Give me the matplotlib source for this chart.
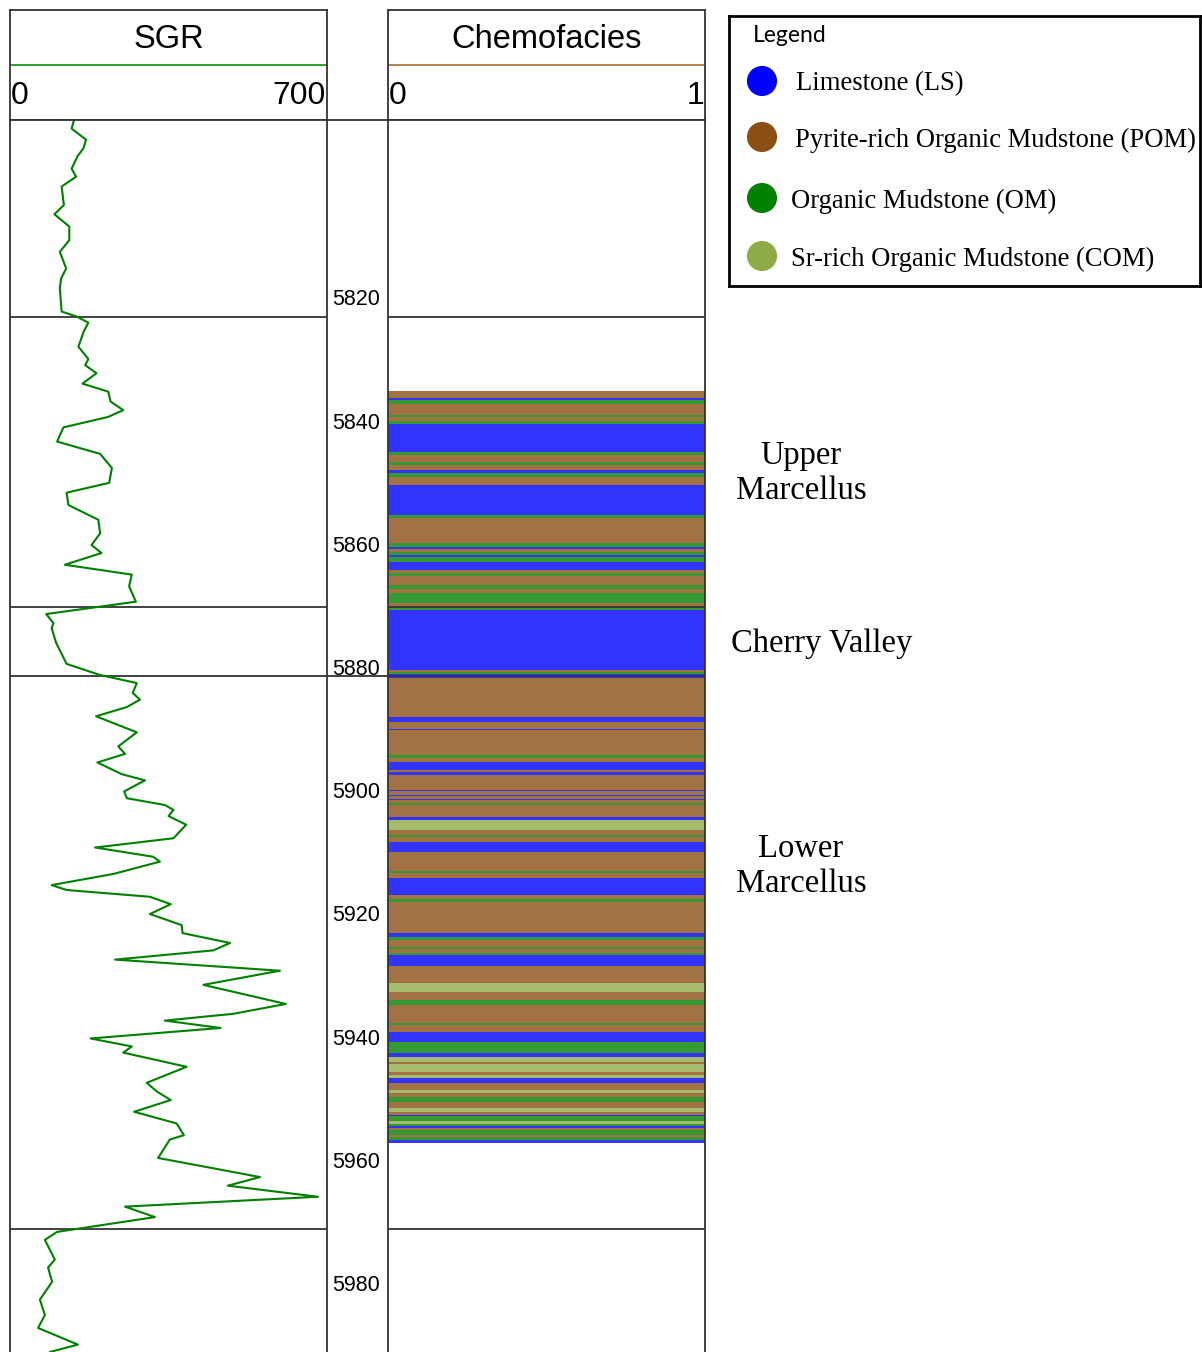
import matplotlib
matplotlib.use("Agg")
import matplotlib.pyplot as plt
from matplotlib.transforms import blended_transform_factory

# SGR log (API), depth in ft
sgr_depth = [5790.9, 5792.2, 5794.0, 5795.4, 5796.7, 5798.7, 5800.0, 5801.6, 5804.6, 5806.1,
             5808.1, 5810.3, 5812.2, 5814.9, 5816.5, 5818.1, 5821.9, 5822.7, 5823.7, 5825.1,
             5827.6, 5829.6, 5830.6, 5831.9, 5833.6, 5834.9, 5836.5, 5837.9, 5839.0, 5840.7,
             5843.0, 5845.0, 5847.3, 5849.7, 5851.3, 5853.3, 5855.7, 5857.9, 5859.8, 5861.1,
             5863.0, 5864.6, 5866.5, 5869.0, 5869.8, 5871.0, 5872.5, 5873.3, 5875.7, 5879.1,
             5880.9, 5882.2, 5883.8, 5884.9, 5886.1, 5887.6, 5890.2, 5892.5, 5893.7, 5895.1,
             5897.0, 5898.0, 5899.8, 5900.9, 5902.0, 5902.8, 5903.8, 5905.2, 5907.4, 5908.9,
             5910.4, 5911.2, 5913.2, 5915.0, 5915.8, 5916.9, 5918.1, 5919.7, 5921.5, 5922.8,
             5924.4, 5925.6, 5927.1, 5928.9, 5931.2, 5934.3, 5935.9, 5937.0, 5938.2, 5939.9,
             5941.2, 5942.2, 5944.5, 5947.1, 5948.5, 5949.9, 5951.8, 5953.7, 5955.6, 5956.3,
             5959.3, 5962.4, 5963.8, 5965.6, 5967.2, 5968.9, 5971.3, 5972.6, 5975.8, 5977.1,
             5979.4, 5982.3, 5984.8, 5986.9, 5989.6, 5990.8]
sgr_value = [141, 136, 168, 162, 149, 136, 146, 114, 119, 98,
             131, 131, 110, 124, 113, 110, 114, 147, 173, 163,
             151, 173, 166, 191, 160, 217, 222, 250, 217, 118,
             104, 199, 225, 219, 125, 129, 195, 199, 180, 202,
             121, 269, 263, 278, 199, 80, 96, 92, 102, 125,
             199, 280, 271, 287, 258, 190, 280, 239, 254, 193,
             247, 298, 252, 258, 342, 361, 350, 389, 361, 188,
             316, 331, 228, 92, 125, 309, 355, 309, 379, 381,
             486, 449, 232, 596, 427, 609, 493, 342, 465, 178,
             269, 250, 390, 302, 324, 355, 274, 368, 384, 353,
             327, 552, 481, 680, 254, 320, 104, 77, 99, 84,
             93, 66, 77, 62, 150, 88]

# chemofacies intervals: top depth of each interval and its facies
facies_top = [5834.8, 5835.9, 5836.2, 5836.9, 5838.7, 5839.0, 5839.6, 5840.1, 5844.7, 5845.2,
              5846.3, 5846.8, 5847.6, 5848.1, 5848.7, 5850.0, 5854.9, 5855.4, 5859.4, 5860.1,
              5860.4, 5860.9, 5861.4, 5861.7, 5862.5, 5863.8, 5864.3, 5864.8, 5866.3, 5866.9,
              5867.6, 5869.2, 5869.8, 5870.3, 5880.1, 5880.4, 5880.7, 5881.4, 5887.7, 5888.5,
              5889.6, 5889.8, 5893.9, 5894.4, 5895.0, 5896.3, 5896.6, 5897.1, 5899.5, 5899.7,
              5900.4, 5900.5, 5901.0, 5901.2, 5901.7, 5902.0, 5903.9, 5904.4, 5906.0, 5906.9,
              5907.2, 5908.0, 5909.6, 5912.7, 5913.0, 5913.8, 5916.6, 5917.2, 5917.7, 5922.8,
              5923.4, 5923.9, 5925.0, 5925.4, 5926.0, 5926.3, 5928.1, 5930.9, 5932.3, 5933.6,
              5934.5, 5937.4, 5937.7, 5938.8, 5940.5, 5942.2, 5942.9, 5943.7, 5944.0, 5945.3,
              5945.8, 5946.3, 5947.1, 5948.2, 5948.7, 5949.4, 5950.2, 5951.2, 5951.8, 5952.3,
              5952.5, 5953.3, 5953.8, 5954.1, 5954.4, 5954.7, 5955.6, 5955.9, 5956.4]
facies_code = ["POM", "LS", "OM", "POM", "OM", "POM", "OM", "LS", "OM", "POM",
               "OM", "POM", "LS", "OM", "POM", "LS", "OM", "POM", "OM", "LS",
               "POM", "OM", "LS", "OM", "LS", "POM", "OM", "POM", "OM", "POM",
               "OM", "POM", "OM", "LS", "POM", "OM", "LS", "POM", "LS", "POM",
               "LS", "POM", "OM", "POM", "LS", "POM", "LS", "POM", "LS", "POM",
               "LS", "POM", "LS", "POM", "OM", "POM", "LS", "COM", "POM", "OM",
               "POM", "LS", "POM", "OM", "POM", "LS", "POM", "OM", "POM", "LS",
               "OM", "POM", "OM", "POM", "OM", "LS", "POM", "COM", "POM", "OM",
               "POM", "OM", "POM", "LS", "OM", "LS", "COM", "POM", "COM", "POM",
               "COM", "LS", "POM", "COM", "POM", "OM", "POM", "COM", "POM", "LS",
               "OM", "COM", "OM", "LS", "POM", "OM", "POM", "OM", "LS"]
facies_base = 5956.9

facies_colors = {"LS": "#0000ff", "POM": "#8b4f14", "OM": "#008000", "COM": "#8fab47"}
legend_labels = ["Limestone (LS)", "Pyrite-rich Organic Mudstone (POM)",
                 "Organic Mudstone (OM)", "Sr-rich Organic Mudstone (COM)"]
legend_codes = ["LS", "POM", "OM", "COM"]

formation_tops = [5822.8, 5869.8, 5881.0, 5970.8]
formation_names = ["Upper\nMarcellus", "Cherry Valley", "Lower\nMarcellus"]
formation_label_depth = [5848.1, 5875.8, 5911.9]
depth_ticks = [5820, 5840, 5860, 5880, 5900, 5920, 5940, 5960, 5980]
depth_top, depth_bottom = 5790.8, 5990.8

W, H = 1202, 1352
fig = plt.figure(figsize=(W / 100, H / 100), dpi=100)


def box(x0, y0, x1, y1):
    return [x0 / W, 1 - y1 / H, (x1 - x0) / W, (y1 - y0) / H]


sans = "Liberation Sans"
serif = "Liberation Serif"
line_c = "#333333"


def header(x0, x1, title, lo, hi, color):
    hx = fig.add_axes(box(x0, 10, x1, 120))
    hx.set_xlim(0, 1)
    hx.set_ylim(110, 0)
    hx.set_xticks([])
    hx.set_yticks([])
    for s in hx.spines.values():
        s.set_color(line_c)
        s.set_linewidth(1.3)
    hx.plot([0, 1], [55, 55], color=color, lw=1.3)
    hx.text(0.5, 30, title, ha="center", va="center", fontsize=23.5, family=sans)
    hx.text(0.003, 86, lo, ha="left", va="center", fontsize=23, family=sans)
    hx.text(0.997, 86, hi, ha="right", va="center", fontsize=23, family=sans)


def track(x0, x1, xmax):
    ax = fig.add_axes(box(x0, 120, x1, 1352))
    ax.set_xlim(0, xmax)
    ax.set_ylim(depth_bottom, depth_top)
    ax.set_xticks([])
    ax.set_yticks([])
    ax.spines["bottom"].set_visible(False)
    for s in ["left", "right", "top"]:
        ax.spines[s].set_color(line_c)
        ax.spines[s].set_linewidth(1.3)
    for d in formation_tops:
        ax.axhline(d, color=line_c, lw=1.3)
    return ax


header(10, 327, "SGR", "0", "700", "#1a9a1a")
header(388, 705, "Chemofacies", "0", "1", "#b07a40")

ax1 = track(10, 327, 700)
ax1.plot(sgr_value, sgr_depth, color="#008000", lw=1.5,
         solid_joinstyle="round", solid_capstyle="round")

ax2 = track(388, 705, 1)
bases = facies_top[1:] + [facies_base]
for top, base, code in zip(facies_top, bases, facies_code):
    ax2.axhspan(top, base, color=facies_colors[code], alpha=0.8, lw=0)

# depth column
axd = fig.add_axes(box(327, 120, 388, 1352))
axd.set_xlim(0, 1)
axd.set_ylim(depth_bottom, depth_top)
axd.axis("off")
axd.plot([0, 1], [depth_top, depth_top], color=line_c, lw=1.3, clip_on=False)
axd.axhline(formation_tops[2], color=line_c, lw=1.3)
for d in depth_ticks:
    axd.text(0.09, d, str(d), ha="left", va="center", fontsize=15.5, family=sans)

# formation names to the right of the chemofacies track
tr = blended_transform_factory(ax2.transAxes, ax2.transData)
for name, d in zip(formation_names, formation_label_depth):
    if "\n" in name:
        ax2.text(1.303, d, name, transform=tr, ha="center", va="center",
                 multialignment="center", fontsize=23.5, family=serif, linespacing=1.18)
    else:
        ax2.text(1.082, d, name, transform=tr, ha="left", va="center",
                 fontsize=23.5, family=serif)

# legend box
lg = fig.add_axes(box(729, 16, 1200, 286))
lg.set_xlim(0, 471)
lg.set_ylim(270, 0)
lg.set_xticks([])
lg.set_yticks([])
for s in lg.spines.values():
    s.set_linewidth(2)
    s.set_color("black")
lg.text(24, 19, "Legend", ha="left", va="center", fontsize=16.5, family="Lato")
ys = [65, 121, 182, 240]
xs = [67, 66, 62, 62]
for code, label, y, x in zip(legend_codes, legend_labels, ys, xs):
    lg.scatter([33], [y], s=470, color=facies_colors[code], edgecolors="none")
    lg.text(x, y + 3, label, ha="left", va="center", fontsize=19.2, family=serif)

fig.savefig("out.png", dpi=100)
